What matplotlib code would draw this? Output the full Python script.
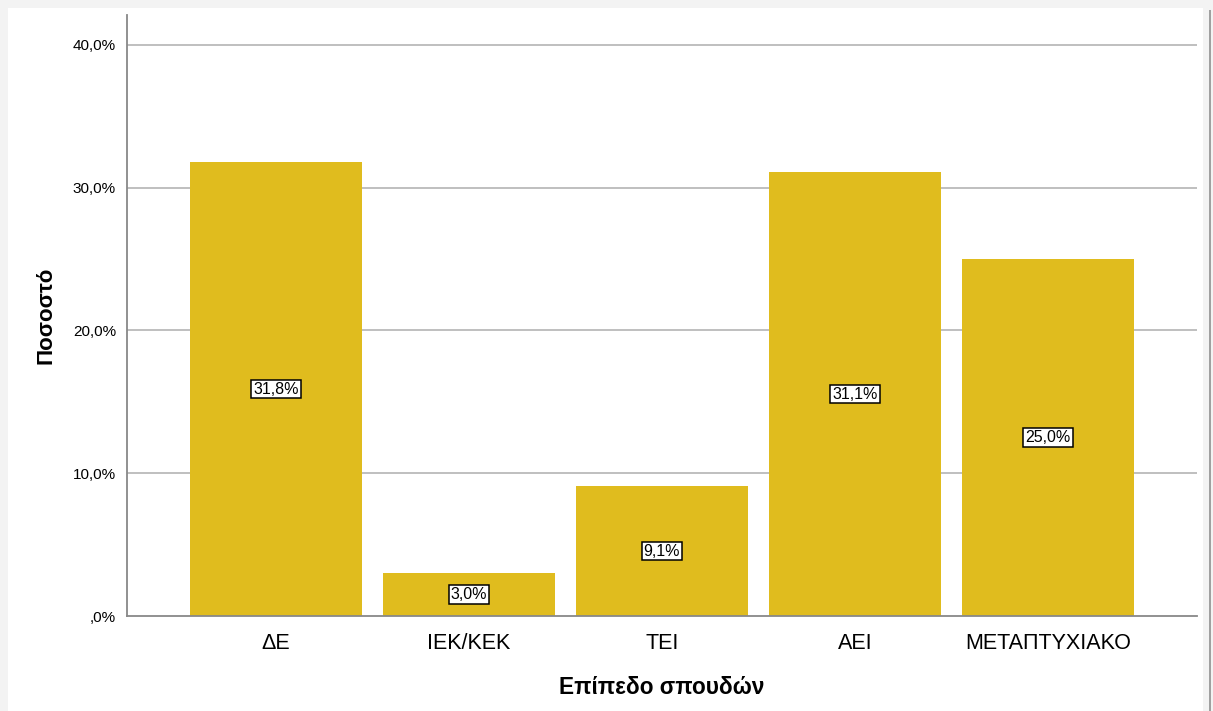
import matplotlib.pyplot as plt
from matplotlib.patches import Rectangle

plt.rcParams['font.family'] = ['Liberation Sans', 'DejaVu Sans']

categories = ['ΔΕ', 'ΙΕΚ/ΚΕΚ', 'ΤΕΙ', 'ΑΕΙ', 'ΜΕΤΑΠΤΥΧΙΑΚΟ']
values = [31.8, 3.0, 9.1, 31.1, 25.0]
yticks = [0, 10, 20, 30, 40]

def pct(v):
    s = f'{v:.1f}'.replace('.', ',')
    if s.startswith('0'):
        s = s[1:]
    return s + '%'

fig = plt.figure(figsize=(12.13, 7.11), dpi=100)
fig.patch.set_facecolor('#f3f3f3')
# white panel inside the light frame
fig.patches.append(Rectangle((8/1213, 0), (1203-8)/1213, 1-8/711, transform=fig.transFigure,
                             facecolor='white', edgecolor='none', zorder=-10))
fig.patches.append(Rectangle((1209/1213, 0), 2/1213, 1-10/711, transform=fig.transFigure,
                             facecolor='#a0a0a0', edgecolor='none', zorder=-10))

ax = fig.add_axes([127/1213, 1-616/711, (1197-127)/1213, (616-15)/711])
ax.set_zorder(1)
ax.set_facecolor('white')

x = range(len(categories))
ax.bar(x, values, width=0.89, color='#e0bc1e', zorder=2)
for i, v in enumerate(values):
    ax.text(i, v/2, pct(v), ha='center', va='center', fontsize=11.5, zorder=3,
            bbox=dict(boxstyle='square,pad=0.12', facecolor='white', edgecolor='black', lw=1.1))

ax.set_xlim(-0.772, 4.772)
ax.set_ylim(0, 42.1)
ax.set_yticks(yticks)
ax.set_yticklabels([pct(v) for v in yticks], fontsize=11)
ax.set_xticks(list(x))
ax.set_xticklabels(categories, fontsize=15.5)
ax.tick_params(length=0, pad=8)
ax.tick_params(axis='x', pad=12)

for v in yticks[1:]:
    ax.axhline(v, color='#b4b4b4', lw=1.2, zorder=1)

for s in ['top', 'right']:
    ax.spines[s].set_visible(False)
ax.spines['left'].set_color('#888888')
ax.spines['bottom'].set_color('#888888')
ax.spines['left'].set_linewidth(1.3)
ax.spines['bottom'].set_linewidth(1.3)

ax.set_ylabel('Ποσοστό', fontsize=16, fontweight='bold', labelpad=12)
ax.set_xlabel('Επίπεδο σπουδών', fontsize=16.3, fontweight='bold', labelpad=16)

fig.savefig('out.png', dpi=100, facecolor=fig.get_facecolor())
